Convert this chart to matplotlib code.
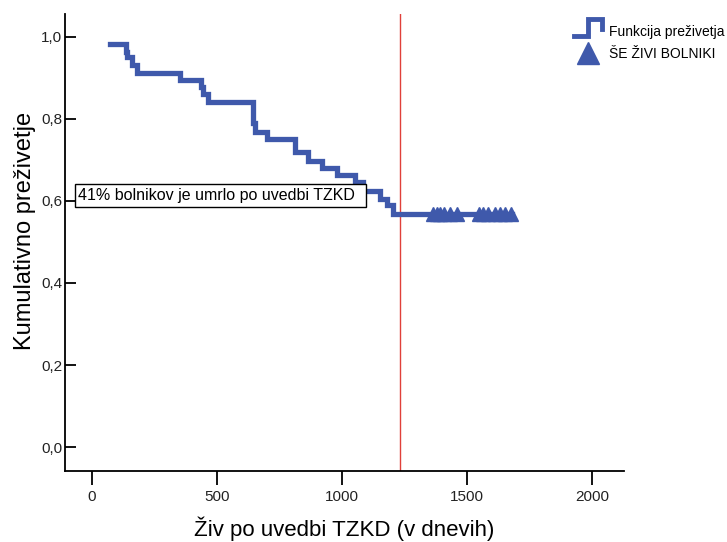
import numpy as np
import matplotlib
matplotlib.use("Agg")
import matplotlib.pyplot as plt
from matplotlib.lines import Line2D
from matplotlib.patches import Rectangle
from matplotlib.transforms import IdentityTransform
from matplotlib.legend_handler import HandlerBase
from matplotlib.ticker import FuncFormatter

# ==========================================================
# 1. Data
# ==========================================================
event_days = [72, 136, 140, 160, 180, 352, 436, 444, 464, 644, 652, 700,
              812, 864, 920, 980, 1052, 1084, 1152, 1180, 1204]
survival = [0.982, 0.962, 0.950, 0.932, 0.912, 0.895, 0.877, 0.861, 0.840,
            0.790, 0.767, 0.751, 0.718, 0.698, 0.680, 0.662, 0.645, 0.624,
            0.605, 0.589, 0.569]
censor_days = [1364, 1380, 1392, 1409, 1432, 1458,
               1548, 1565, 1585, 1610, 1630, 1650, 1676]
last_day = 1680
cutoff_day = 1232

x_ticks = [0, 500, 1000, 1500, 2000]
y_ticks = [0.0, 0.2, 0.4, 0.6, 0.8, 1.0]

note_text = "41% bolnikov je umrlo po uvedbi TZKD"
x_title = "Živ po uvedbi TZKD (v dnevih)"
y_title = "Kumulativno preživetje"
legend_labels = ["Funkcija preživetja", "ŠE ŽIVI BOLNIKI"]

C_CURVE = "#3F59AB"
C_CUTOFF = "#E0403A"

NARROW = ["Liberation Sans Narrow", "Liberation Sans", "DejaVu Sans"]
REGULAR = ["Liberation Sans", "DejaVu Sans"]

plt.rcParams.update({
    "font.family": REGULAR,
    "axes.linewidth": 1.3,
    "axes.spines.top": False,
    "axes.spines.right": False,
})


# ==========================================================
# 2. Legend icon for the step line
# ==========================================================
class StepHandler(HandlerBase):
    def create_artists(self, legend, orig_handle, xdescent, ydescent,
                       width, height, fontsize, trans):
        x0, y0 = -xdescent, -ydescent
        xs = [x0, x0 + 0.5 * width, x0 + 0.5 * width, x0 + width, x0 + width]
        ys = [y0, y0, y0 + 1.7 * height, y0 + 1.7 * height, y0 + 0.7 * height]
        icon = Line2D(xs, ys, color=orig_handle.get_color(),
                      lw=orig_handle.get_linewidth(),
                      solid_joinstyle="miter", transform=trans)
        return [icon]


# ==========================================================
# 3. Plot
# ==========================================================
fig = plt.figure(figsize=(7.27, 5.42), dpi=100)
ax = fig.add_axes([65 / 727, 1 - 471 / 542, (624 - 65) / 727, (471 - 14) / 542])

step_x = [event_days[0]] + event_days[1:] + [last_day]
step_y = survival + [survival[-1]]
ax.step(step_x, step_y, where="post", color=C_CURVE, lw=3.8,
        solid_joinstyle="miter", zorder=3)

censor_y = [survival[-1]] * len(censor_days)
ax.plot(censor_days, censor_y, ls="none", marker="^", ms=10,
        color=C_CURVE, mec=C_CURVE, zorder=4)

ax.axvline(cutoff_day, color=C_CUTOFF, lw=1.0, zorder=2)

note = ax.text(-58, 0.612, note_text, ha="left", va="center", fontsize=11.5,
               family=REGULAR, zorder=6)

ax.set_xlim(-108, 2128)
ax.set_ylim(-0.058, 1.055)
ax.set_xticks(x_ticks)
ax.set_yticks(y_ticks)
ax.yaxis.set_major_formatter(FuncFormatter(lambda v, _: f"{v:.1f}".replace(".", ",")))

ax.tick_params(axis="x", direction="out", length=10, width=1.3, pad=4)
ax.tick_params(axis="y", direction="in", length=8, width=1.3, pad=2)
for lab in ax.get_xticklabels() + ax.get_yticklabels():
    lab.set_family(NARROW)
    lab.set_fontsize(11)
    lab.set_color("#222222")

ax.set_xlabel(x_title, fontsize=16, labelpad=9)
ax.set_ylabel(y_title, fontsize=17)
ax.yaxis.set_label_coords(-0.052, 0.525)

step_handle = Line2D([], [], color=C_CURVE, lw=3.5)
tri_handle = Line2D([], [], ls="none", marker="^", ms=16, color=C_CURVE)
fig.legend([step_handle, tri_handle], legend_labels,
           handler_map={step_handle: StepHandler()},
           loc="upper left", bbox_to_anchor=(574 / 727, 1 - 25 / 542),
           frameon=False, numpoints=1, handlelength=2.0, handletextpad=0.5,
           labelspacing=0.6, borderpad=0, borderaxespad=0,
           prop={"family": NARROW, "size": 10})

# white box behind the note, wider on the right as in the original
fig.canvas.draw()
bb = note.get_window_extent()
box = Rectangle((bb.x0 - 3, bb.y0 - 4), bb.width + 15, bb.height + 8,
                transform=IdentityTransform(), fc="white", ec="black",
                lw=1.0, zorder=5, clip_on=False)
ax.add_artist(box)

fig.savefig("out.png", dpi=100)
